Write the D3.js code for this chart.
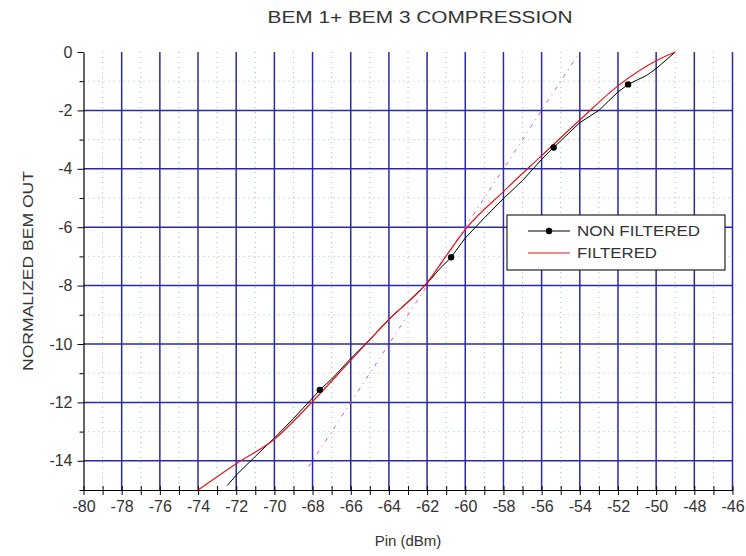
<!DOCTYPE html>
<html>
<head>
<meta charset="utf-8">
<script src="https://cdn.jsdelivr.net/npm/d3@7"></script>
<style>
  html, body { margin: 0; padding: 0; background: #fff; }
  svg { display: block; font-family: "Liberation Sans", Arial, sans-serif; }
</style>
</head>
<body>
<svg id="chart" width="746" height="556"></svg>
<script>
// ---- data ----
const titleText = "BEM 1+ BEM 3 COMPRESSION";
const xLabelText = "Pin (dBm)";
const yLabelText = "NORMALIZED BEM OUT";
const seriesNames = ["NON FILTERED", "FILTERED"];

const xTicks = d3.range(-80, -45, 1);
const xTickLabels = d3.range(-80, -45, 2);
const yTicks = d3.range(0, -16, -1);
const yTickLabels = d3.range(0, -15, -2);

// NON FILTERED (black)
const nfPin = [-72.47, -72, -71, -70, -69, -68, -67.62, -67, -66, -65, -64, -63, -62, -61.3, -60.74, -60, -59, -58, -57, -56, -55.37, -54, -53, -52, -51.47, -50.5, -50, -49];
const nfOut = [-14.85, -14.49, -13.85, -13.22, -12.55, -11.85, -11.57, -11.2, -10.5, -9.85, -9.15, -8.55, -7.92, -7.4, -7.03, -6.37, -5.68, -5.02, -4.4, -3.68, -3.27, -2.42, -2.0, -1.37, -1.11, -0.8, -0.57, 0];
// markers on NON FILTERED
const markPin = [-67.62, -60.74, -55.37, -51.47];
const markOut = [-11.57, -7.03, -3.27, -1.11];

// FILTERED (red)
const fPin = [-74, -72, -70, -68, -66, -64, -62, -61, -60, -58, -56, -54, -52, -50, -49];
const fOut = [-15, -14.1, -13.26, -11.97, -10.56, -9.16, -7.9, -6.98, -6.08, -4.78, -3.55, -2.33, -1.16, -0.3, 0];

// reference 1:1 line (magenta dash-dot)
const refPin = [-68.2, -54];
const refOut = [-14.2, 0];

// ---- chart ----
const svg = d3.select("#chart");
const x = d3.scaleLinear().domain([-80, -46]).range([83.5, 732.5]);
const y = d3.scaleLinear().domain([-15, 0]).range([490, 52]);

const blue = "#2a2aa6";
const green = "#8fd08f";

// minor grid (green dotted)
const g = svg.append("g");
g.selectAll("line.vminor").data(xTicks.filter(d => Math.abs(d) % 2 === 1))
  .enter().append("line")
  .attr("x1", d => x(d)).attr("x2", d => x(d))
  .attr("y1", y(0)).attr("y2", y(-15))
  .attr("stroke", green).attr("stroke-width", 1).attr("stroke-dasharray", "1,4");
g.selectAll("line.hminor").data(yTicks.filter(d => Math.abs(d) % 2 === 1 && d > -15))
  .enter().append("line")
  .attr("x1", x(-80)).attr("x2", x(-46))
  .attr("y1", d => y(d)).attr("y2", d => y(d))
  .attr("stroke", green).attr("stroke-width", 1).attr("stroke-dasharray", "1,4");

// major grid (blue)
g.selectAll("line.vmajor").data(xTickLabels.filter(d => d > -80))
  .enter().append("line")
  .attr("x1", d => x(d)).attr("x2", d => x(d))
  .attr("y1", y(0)).attr("y2", y(-15))
  .attr("stroke", blue).attr("stroke-width", 1.5);
g.selectAll("line.hmajor").data(yTickLabels.filter(d => d < 0))
  .enter().append("line")
  .attr("x1", x(-80)).attr("x2", x(-46))
  .attr("y1", d => y(d)).attr("y2", d => y(d))
  .attr("stroke", blue).attr("stroke-width", 1.5);

// axes
const xAxis = d3.axisBottom(x).tickValues(xTicks)
  .tickFormat(d => (d % 2 === 0 ? d : ""))
  .tickSizeOuter(0).tickSizeInner(5).tickPadding(6);
const xg = svg.append("g").attr("transform", `translate(0,${y(-15)})`).call(xAxis);
xg.select(".domain").attr("stroke", "#000").attr("stroke-width", 1.2);
xg.selectAll(".tick line").attr("y1", -4).attr("stroke", "#000");
xg.selectAll(".tick text").attr("font-size", 16).attr("fill", "#333")
  .attr("font-family", "Liberation Sans, Arial, sans-serif");

const yAxis = d3.axisLeft(y).tickValues(yTicks)
  .tickFormat(d => (d % 2 === 0 && d > -15 ? d : ""))
  .tickSizeOuter(0).tickSizeInner(6).tickPadding(5);
const yg = svg.append("g").attr("transform", `translate(${x(-80)},0)`).call(yAxis);
yg.select(".domain").attr("stroke", "#000").attr("stroke-width", 1.2);
yg.selectAll(".tick line").attr("stroke", "#000").attr("x2", d => (d % 2 === 0 ? -6 : -4));
yg.selectAll(".tick text").attr("font-size", 16).attr("fill", "#333")
  .attr("font-family", "Liberation Sans, Arial, sans-serif");

// data lines
const line = d3.line().x(d => x(d[0])).y(d => y(d[1]));

svg.append("path")
  .datum(refPin.map((p, i) => [p, refOut[i]]))
  .attr("d", line).attr("fill", "none")
  .attr("stroke", "#d055d0").attr("stroke-width", 1)
  .attr("stroke-dasharray", "4,5,1,5");

svg.append("path")
  .datum(nfPin.map((p, i) => [p, nfOut[i]]))
  .attr("d", line).attr("fill", "none")
  .attr("stroke", "#000").attr("stroke-width", 1);

svg.append("path")
  .datum(fPin.map((p, i) => [p, fOut[i]]))
  .attr("d", d3.line().curve(d3.curveMonotoneX).x(d => x(d[0])).y(d => y(d[1])))
  .attr("fill", "none")
  .attr("stroke", "#e01818").attr("stroke-width", 1.2);

svg.selectAll("circle.mark").data(markPin.map((p, i) => [p, markOut[i]]))
  .enter().append("circle")
  .attr("cx", d => x(d[0])).attr("cy", d => y(d[1])).attr("r", 3.2)
  .attr("fill", "#000");

// legend
const lg = svg.append("g");
lg.append("rect").attr("x", 507).attr("y", 215).attr("width", 218).attr("height", 55)
  .attr("fill", "#fff").attr("stroke", "#222").attr("stroke-width", 1.2);
lg.append("line").attr("x1", 528).attr("x2", 570).attr("y1", 231).attr("y2", 231)
  .attr("stroke", "#000").attr("stroke-width", 1);
lg.append("circle").attr("cx", 549).attr("cy", 231).attr("r", 3.2).attr("fill", "#000");
lg.append("line").attr("x1", 528).attr("x2", 570).attr("y1", 253).attr("y2", 253)
  .attr("stroke", "#e01818").attr("stroke-width", 1.2);
lg.append("text").attr("x", 577).attr("y", 236).attr("font-size", 15).attr("fill", "#333")
  .attr("textLength", 123).attr("lengthAdjust", "spacingAndGlyphs").text(seriesNames[0]);
lg.append("text").attr("x", 577).attr("y", 258).attr("font-size", 15).attr("fill", "#333")
  .attr("textLength", 80).attr("lengthAdjust", "spacingAndGlyphs").text(seriesNames[1]);

// titles
svg.append("text").attr("x", 420).attr("y", 23).attr("text-anchor", "middle")
  .attr("font-size", 16).attr("fill", "#333")
  .attr("textLength", 305).attr("lengthAdjust", "spacingAndGlyphs").text(titleText);
svg.append("text").attr("x", 408).attr("y", 546).attr("text-anchor", "middle")
  .attr("font-size", 15).attr("fill", "#333").text(xLabelText);
svg.append("text").attr("transform", "translate(33,271) rotate(-90)").attr("text-anchor", "middle")
  .attr("font-size", 15).attr("fill", "#333")
  .attr("textLength", 200).attr("lengthAdjust", "spacingAndGlyphs").text(yLabelText);
</script>
</body>
</html>
